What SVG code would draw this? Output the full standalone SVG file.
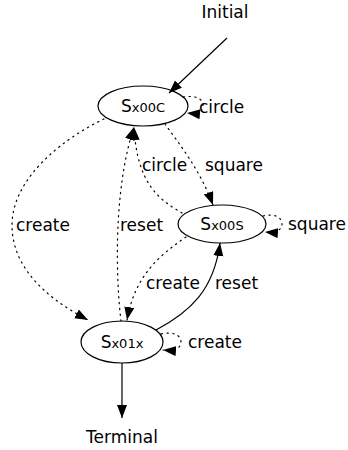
<svg xmlns="http://www.w3.org/2000/svg" width="348" height="450" viewBox="0 0 348 450">
  <style>
    text { font-family: "DejaVu Sans", sans-serif; font-size: 17px; fill: #000; }
    .node ellipse { fill: none; stroke: #000; stroke-width: 1.2; }
    .sub { font-size: 13px; }
    .edge { fill: none; stroke: #000; stroke-width: 1.2; }
    .dot { stroke-dasharray: 1.3 4.5; stroke-linecap: round; }
  </style>
  <defs>
    <marker id="arrow" markerUnits="userSpaceOnUse" markerWidth="14" markerHeight="11" refX="13" refY="5" orient="auto">
      <path d="M0,0 L13,5 L0,10 z" fill="#000"/>
    </marker>
  </defs>

  <!-- start / end labels -->
  <text id="initial" x="225" y="18" text-anchor="middle">Initial</text>
  <text id="terminal" x="122" y="443" text-anchor="middle">Terminal</text>

  <!-- states -->
  <g id="S_x00C" class="node">
    <ellipse cx="143" cy="106" rx="45" ry="20"/>
    <text x="143" y="112" text-anchor="middle">S<tspan class="sub">x00C</tspan></text>
  </g>
  <g id="S_x00S" class="node">
    <ellipse cx="222" cy="224" rx="44" ry="19"/>
    <text x="222" y="230" text-anchor="middle">S<tspan class="sub">x00S</tspan></text>
  </g>
  <g id="S_x01x" class="node">
    <ellipse cx="122" cy="342" rx="41" ry="21"/>
    <text x="122" y="348" text-anchor="middle">S<tspan class="sub">x01x</tspan></text>
  </g>

  <!-- transitions -->
  <g id="edges">
    <path class="edge" d="M227,38 L169,93" marker-end="url(#arrow)"/>
    <path class="edge dot" d="M183,97 C197,95 203,99 203,106 C203,112 197,114 187,113" marker-end="url(#arrow)"/>
    <path class="edge dot" d="M165,124 C180,145 200,170 213,205" marker-end="url(#arrow)"/>
    <path class="edge dot" d="M182,213 C160,200 137,185 134,127" marker-end="url(#arrow)"/>
    <path class="edge dot" d="M104,119 C60,140 12,180 12,225 C12,270 50,300 88,320" marker-end="url(#arrow)"/>
    <path class="edge dot" d="M121,321 C116,280 113,190 134,127" marker-end="url(#arrow)"/>
    <path class="edge dot" d="M263,216 C276,213 282,218 282,224 C282,230 276,233 265,232" marker-end="url(#arrow)"/>
    <path class="edge dot" d="M186,237 C160,255 135,275 127,320" marker-end="url(#arrow)"/>
    <path class="edge" d="M156,330 C190,312 214,290 220,243" marker-end="url(#arrow)"/>
    <path class="edge dot" d="M161,334 C175,331 181,336 181,342 C181,348 175,351 163,350" marker-end="url(#arrow)"/>
    <path class="edge" d="M122,363 L122,418" marker-end="url(#arrow)"/>
  </g>

  <!-- transition labels -->
  <g id="labels">
    <text x="199" y="113">circle</text>
    <text x="205" y="171">square</text>
    <text x="142" y="171">circle</text>
    <text x="16" y="231">create</text>
    <text x="120" y="231">reset</text>
    <text x="288" y="230">square</text>
    <text x="146" y="289">create</text>
    <text x="215" y="289">reset</text>
    <text x="188" y="348">create</text>
  </g>
</svg>
